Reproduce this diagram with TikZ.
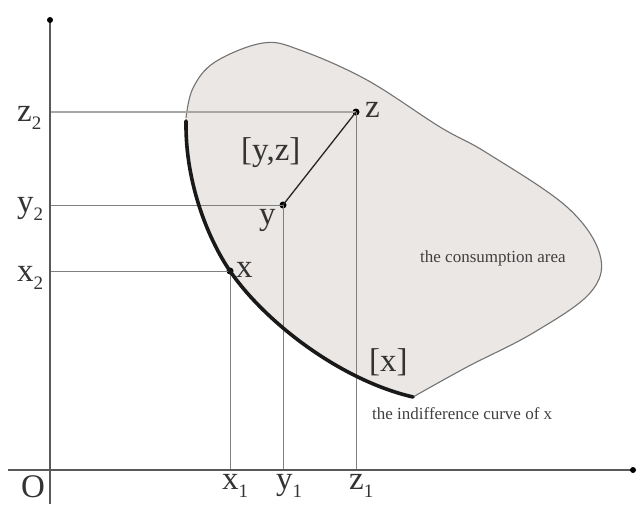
\documentclass[tikz,border=0pt]{standalone}
\usepackage{fontspec}
\setmainfont{Liberation Serif}
\newcommand\sublab[2]{#1\raisebox{-0.26em}{\fontsize{19}{19}\selectfont #2}}
\begin{document}
\begin{tikzpicture}[x=1pt,y=-1pt,
  biglab/.style={font=\fontsize{33}{36}\selectfont, text=black!80, inner sep=0pt},
  smalllab/.style={font=\fontsize{17}{19}\selectfont, text=black!75, inner sep=0pt},
  axisline/.style={draw=black!65, line width=1.3pt},
  guide/.style={draw=black!50, line width=0.9pt},
  dotmark/.style={circle, fill=black, inner sep=0pt, minimum size=7pt},
  thinedge/.style={draw=black!55, line width=1.1pt},
  thickedge/.style={draw=black!90, line width=3.6pt}]
\useasboundingbox (0,0) rectangle (637,504);
\definecolor{areacol}{HTML}{EAE7E5}
% area
\fill[areacol] plot[smooth, tension=0.6] coordinates {(186,118) (193,88) (215,62) (263,43) (300,50) (367,80) (440,127) (487,153) (567,207) (600,255) (590,293) (533,333) (467,367) (413,397)}
  .. controls (340,380) and (265,322) .. (230,271)
  .. controls (210,242) and (185,185) .. (186,118) -- cycle;
\draw[thinedge] plot[smooth, tension=0.6] coordinates {(186,118) (193,88) (215,62) (263,43) (300,50) (367,80) (440,127) (487,153) (567,207) (600,255) (590,293) (533,333) (467,367) (413,397)};
% points
\coordinate (axtop) at (50,20);
\coordinate (axbot) at (50,504);
\coordinate (axleft) at (8,470);
\coordinate (axright) at (633,470);
\node[dotmark] (px) at (230,271) {};
\node[dotmark] (py) at (283,205) {};
\node[dotmark] (pz) at (356,112) {};
\coordinate (x1) at (230,470);
\coordinate (y1) at (283,470);
\coordinate (z1) at (356,470);
\coordinate (x2) at (50,271);
\coordinate (y2) at (50,205);
\coordinate (z2) at (50,112);
\coordinate (cTop) at (186,121);
\coordinate (cTip) at (413,397);
% guides
\draw[guide] (x2) -- (px.center) -- (x1);
\draw[guide] (y2) -- (py.center) -- (y1);
\draw[guide, draw=black!35, line width=2pt] (z2) -- (pz.center);
\draw[guide] (pz.center) -- (z1);
% indifference curve
\draw[thickedge, line cap=round] (cTip) .. controls (340,380) and (265,322) .. (px.center)
  .. controls (210,242) and (185,185) .. (cTop);
% segment
\draw[black!85, line width=1.3pt] (py.center) -- (pz.center);
% axes
\draw[axisline] (axbot) -- (axtop);
\draw[axisline] (axleft) -- (axright);
\node[dotmark, minimum size=6pt] (axtopdot) at (axtop) {};
\node[dotmark, minimum size=6pt] (axrightdot) at (axright) {};
% labels
\node[biglab, anchor=base west] (lO) at (21,497) {O};
\node[biglab, anchor=base west] (lx1) at (222,489) {\sublab{x}{1}};
\node[biglab, anchor=base west] (ly1) at (276,489) {\sublab{y}{1}};
\node[biglab, anchor=base west] (lz1) at (349,489) {\sublab{z}{1}};
\node[biglab, anchor=base west] (lx2) at (17,281) {\sublab{x}{2}};
\node[biglab, anchor=base west] (ly2) at (17,212) {\sublab{y}{2}};
\node[biglab, anchor=base west] (lz2) at (17,121) {\sublab{z}{2}};
\node[biglab, anchor=base west] (lx) at (236,277) {x};
\node[biglab, anchor=base west] (ly) at (259,224) {y};
\node[biglab, anchor=base west] (lz) at (365,117) {z};
\node[biglab, anchor=base west] (lyz) at (241,160) {[y,z]};
\node[biglab, anchor=base west] (lxx) at (369,371) {[x]};
\node[smalllab, anchor=base west] (lca) at (420,262) {the consumption area};
\node[smalllab, anchor=base west] (lic) at (372,419) {the indifference curve of x};
\end{tikzpicture}
\end{document}
